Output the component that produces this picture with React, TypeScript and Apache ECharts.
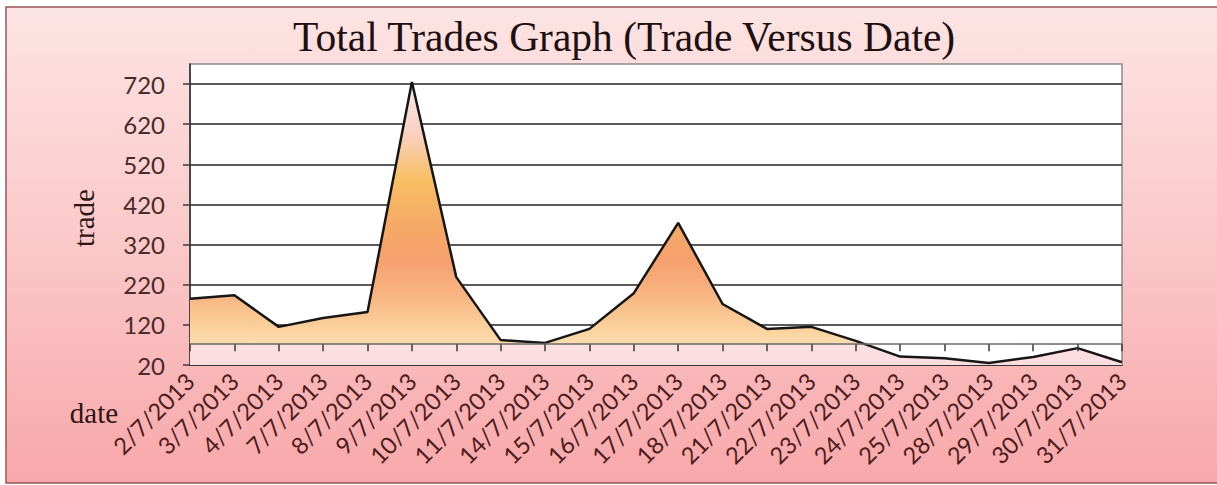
import React, { useEffect, useRef } from 'react';
import * as echarts from 'echarts';

const dates = [
  '2/7/2013', '3/7/2013', '4/7/2013', '7/7/2013', '8/7/2013', '9/7/2013',
  '10/7/2013', '11/7/2013', '14/7/2013', '15/7/2013', '16/7/2013', '17/7/2013',
  '18/7/2013', '21/7/2013', '22/7/2013', '23/7/2013', '24/7/2013', '25/7/2013',
  '28/7/2013', '29/7/2013', '30/7/2013', '31/7/2013',
];
const trades = [185, 194, 115, 137, 152, 725, 239, 82, 75, 110, 199, 374, 172, 110, 115, 80, 41, 37, 25, 40, 62, 27];
const yTicks = [20, 120, 220, 320, 420, 520, 620, 720];
const Y_MIN = 20;
const Y_MAX = 770;
const AXIS_CROSS = 72;
const TITLE = 'Total Trades Graph (Trade Versus Date)';
const Y_NAME = 'trade';
const X_NAME = 'date';

export default function App() {
  const ref = useRef<HTMLDivElement>(null);
  useEffect(() => {
    const chart = echarts.init(ref.current!, null, { renderer: 'svg' });
    const H = 485;
    const gridTop = 64;
    const gridBottom = 120;
    const gridH = H - gridTop - gridBottom;
    const crossOffset = -((AXIS_CROSS - Y_MIN) / (Y_MAX - Y_MIN)) * gridH;
    const serif = "'Liberation Serif', 'Times New Roman', serif";
    const sans = "Lato, 'Open Sans', sans-serif";

    chart.setOption({
      animation: false,
      backgroundColor: '#ffffff',
      title: {
        text: TITLE,
        left: 288,
        top: 11,
        textStyle: { fontFamily: serif, fontSize: 41.5, fontWeight: 'normal', color: '#1e1010' },
      },
      graphic: [
        {
          type: 'rect',
          z: -10,
          silent: true,
          shape: { x: 6, y: 7, width: 1240, height: 476 },
          style: {
            fill: new echarts.graphic.LinearGradient(0, 0, 0, 1, [
              { offset: 0, color: '#fde4e4' },
              { offset: 0.5, color: '#fbc8c8' },
              { offset: 1, color: '#f8a8aa' },
            ]),
            stroke: '#9c5454',
            lineWidth: 1.5,
          },
        },
        {
          type: 'text',
          x: 84,
          y: 218,
          rotation: Math.PI / 2,
          style: {
            text: Y_NAME,
            font: `29px ${serif}`,
            fill: '#2e1414',
            align: 'center',
            verticalAlign: 'middle',
          },
        },
        {
          type: 'text',
          x: 94,
          y: 413,
          style: {
            text: X_NAME,
            font: `29px ${serif}`,
            fill: '#2e1414',
            align: 'center',
            verticalAlign: 'middle',
          },
        },
      ],
      grid: {
        left: 190,
        right: 95,
        top: gridTop,
        bottom: gridBottom,
        show: true,
        backgroundColor: '#ffffff',
        borderColor: '#8a8a8a',
        borderWidth: 1.5,
      },
      xAxis: [
        {
          type: 'category',
          data: dates,
          boundaryGap: false,
          position: 'bottom',
          axisLine: { show: true, lineStyle: { color: '#2a2a2a', width: 1.5 } },
          axisTick: { show: false },
          axisLabel: {
            interval: 0,
            rotate: 45,
            margin: 12,
            fontFamily: sans,
            fontSize: 23.5,
            color: '#4e1c1c',
          },
        },
        {
          type: 'category',
          data: dates,
          boundaryGap: false,
          position: 'bottom',
          offset: crossOffset,
          z: 5,
          axisLine: { show: true, lineStyle: { color: '#6a6a6a', width: 1.5 } },
          axisTick: { show: true, length: 7, interval: 0, lineStyle: { color: '#3a3a3a', width: 1.5 } },
          axisLabel: { show: false },
        },
      ],
      yAxis: {
        type: 'value',
        min: Y_MIN,
        max: Y_MAX,
        interval: 100,
        axisLine: { show: true, lineStyle: { color: '#2a2a2a', width: 1.5 } },
        axisTick: { show: true, length: 7, customValues: yTicks, lineStyle: { color: '#3a3a3a', width: 1.5 } },
        axisLabel: {
          customValues: yTicks,
          margin: 25,
          fontFamily: sans,
          fontSize: 24,
          color: '#4a2a2a',
        },
        splitLine: { show: true, lineStyle: { color: '#5a5a5a', width: 1.8 } },
      },
      series: [
        {
          type: 'line',
          data: trades,
          xAxisIndex: 0,
          symbol: 'none',
          lineStyle: { color: '#161616', width: 2.5 },
          areaStyle: {
            origin: 'start',
            opacity: 1,
            color: new echarts.graphic.LinearGradient(0, 0, 0, 1, [
              { offset: 0, color: '#fbe8ea' },
              { offset: 0.17, color: '#fad2c6' },
              { offset: 0.35, color: '#f8be62' },
              { offset: 0.5, color: '#f6aa66' },
              { offset: 0.63, color: '#f5a06e' },
              { offset: 0.76, color: '#f8b682' },
              { offset: 0.89, color: '#fbd6a2' },
              { offset: 0.925, color: '#fcdcb2' },
              { offset: 0.93, color: '#fbdfe2' },
              { offset: 1, color: '#fcdde0' },
            ]),
          },
        },
      ],
    });
    return () => chart.dispose();
  }, []);
  return <div ref={ref} style={{ position: 'absolute', left: 0, top: 0, width: 1217, height: 485 }} />;
}
